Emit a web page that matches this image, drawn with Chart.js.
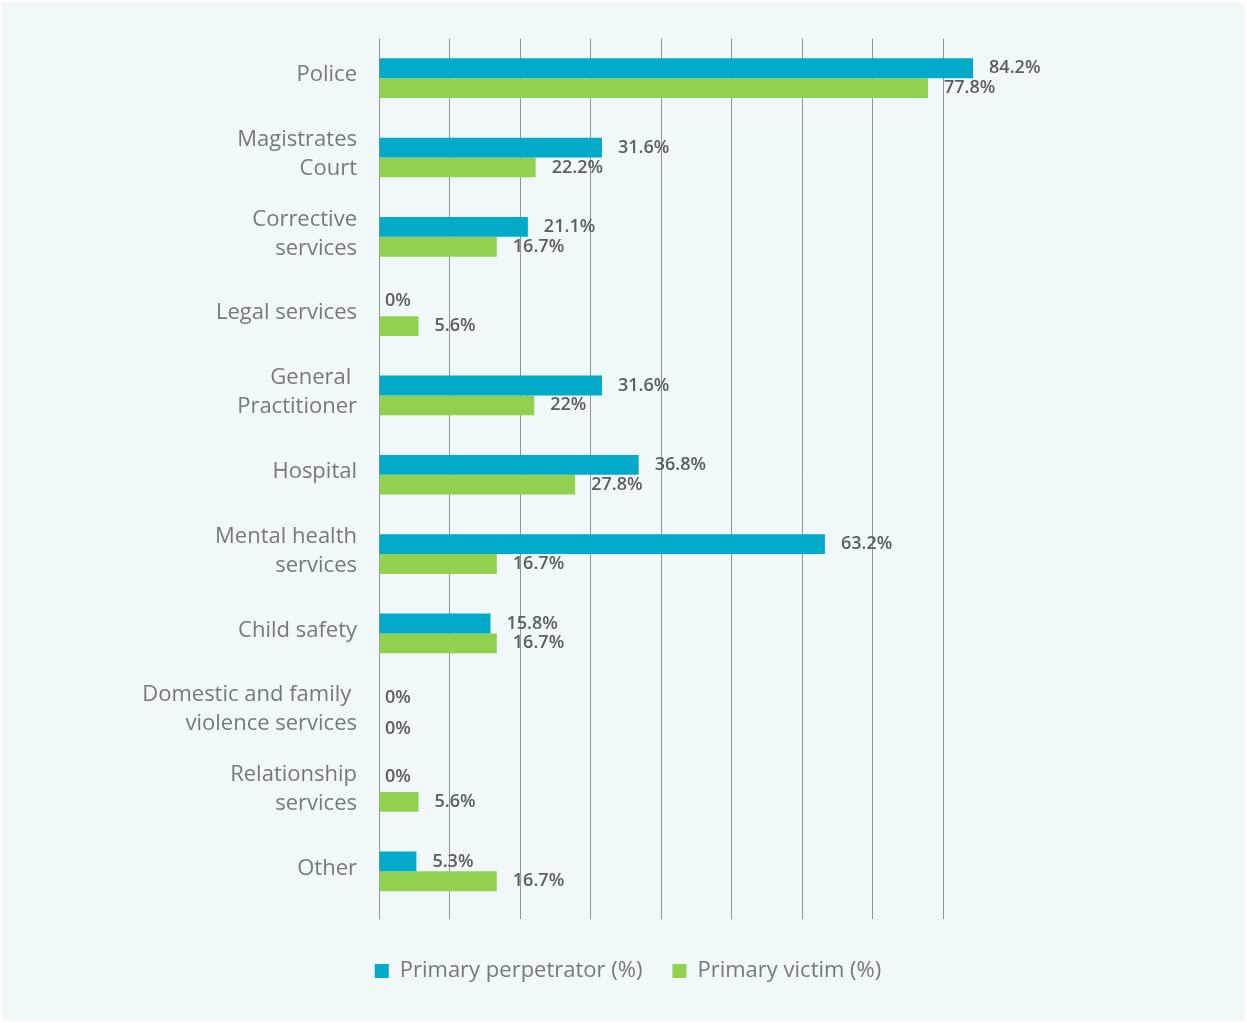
<!DOCTYPE html>
<html>
<head>
<meta charset="utf-8">
<script src="https://cdn.jsdelivr.net/npm/chart.js@4/dist/chart.umd.min.js"></script>
<style>
  html, body { margin: 0; padding: 0; background: #ffffff; }
  #wrap { position: absolute; left: 2px; top: 2px; width: 1243px; height: 1019px; background: #f1f8fa; }
  canvas { display: block; }
</style>
</head>
<body>
<div id="wrap"><canvas id="chart" width="1243" height="1019"></canvas></div>
<script>
// Services contacted, by role in the incident
const categories = [
  'Police',
  ['Magistrates', 'Court'],
  ['Corrective', 'services'],
  'Legal services',
  ['General ', 'Practitioner'],
  'Hospital',
  ['Mental health', 'services'],
  'Child safety',
  ['Domestic and family ', 'violence services'],
  ['Relationship', 'services'],
  'Other'
];
const perpetratorPct = [84.2, 31.6, 21.1, 0, 31.6, 36.8, 63.2, 15.8, 0, 0, 5.3];
const victimPct      = [77.8, 22.2, 16.7, 5.6, 22, 27.8, 16.7, 16.7, 0, 5.6, 16.7];
const seriesNames = ['Primary perpetrator (%)', 'Primary victim (%)'];

const FONT = "'Open Sans', 'Noto Sans', sans-serif";

// Value labels drawn just past the end of each bar
const valueLabels = {
  id: 'valueLabels',
  afterDatasetsDraw(chart) {
    const ctx = chart.ctx;
    ctx.save();
    ctx.font = '600 18px ' + FONT;
    ctx.fillStyle = '#5b5e60';
    ctx.textAlign = 'left';
    ctx.textBaseline = 'middle';
    chart.data.datasets.forEach((ds, di) => {
      const meta = chart.getDatasetMeta(di);
      meta.data.forEach((bar, i) => {
        const v = ds.data[i];
        let x = bar.x + 16;
        let y = bar.y;
        if (v === 0) {
          x = bar.base + 6;
          y += di === 0 ? -5 : 6;
        }
        ctx.fillText(v + '%', x, y);
      });
    });
    ctx.restore();
  }
};

// Centre the legend under the plot column rather than the padded box
const legendSpan = {
  id: 'legendSpan',
  afterLayout(chart) {
    const lg = chart.legend;
    if (lg) { lg.left = 0; lg.right = 1252; }
  }
};

new Chart(document.getElementById('chart'), {
  type: 'bar',
  data: {
    labels: categories,
    datasets: [
      { label: seriesNames[0], data: perpetratorPct, backgroundColor: '#00aac8' },
      { label: seriesNames[1], data: victimPct, backgroundColor: '#92d050' }
    ]
  },
  options: {
    indexAxis: 'y',
    responsive: false,
    animation: false,
    datasets: { bar: { categoryPercentage: 0.5, barPercentage: 1.0 } },
    layout: { padding: { top: 33, right: 231, bottom: 29, left: 0 } },
    scales: {
      x: {
        min: 0,
        max: 90,
        ticks: { display: false, stepSize: 10 },
        border: { display: false },
        grid: {
          color: (c) => (c.tick && c.tick.value === 90 ? 'rgba(0,0,0,0)' : '#8f9496'),
          lineWidth: 1,
          tickLength: 8,
          drawTicks: true
        },
        afterFit(scale) { scale.height = 19; }
      },
      y: {
        grid: { display: false, drawTicks: false },
        border: { display: false },
        ticks: {
          color: '#75797c',
          padding: 22,
          labelOffset: -3,
          font: { family: FONT, size: 22, lineHeight: 1.32 }
        },
        afterFit(scale) { scale.width = 377; }
      }
    },
    plugins: {
      legend: {
        position: 'bottom',
        labels: {
          boxWidth: 14,
          boxHeight: 14,
          padding: 30,
          color: '#75797c',
          font: { family: FONT, size: 22 }
        }
      },
      tooltip: { enabled: false }
    }
  },
  plugins: [valueLabels, legendSpan]
});
</script>
</body>
</html>
